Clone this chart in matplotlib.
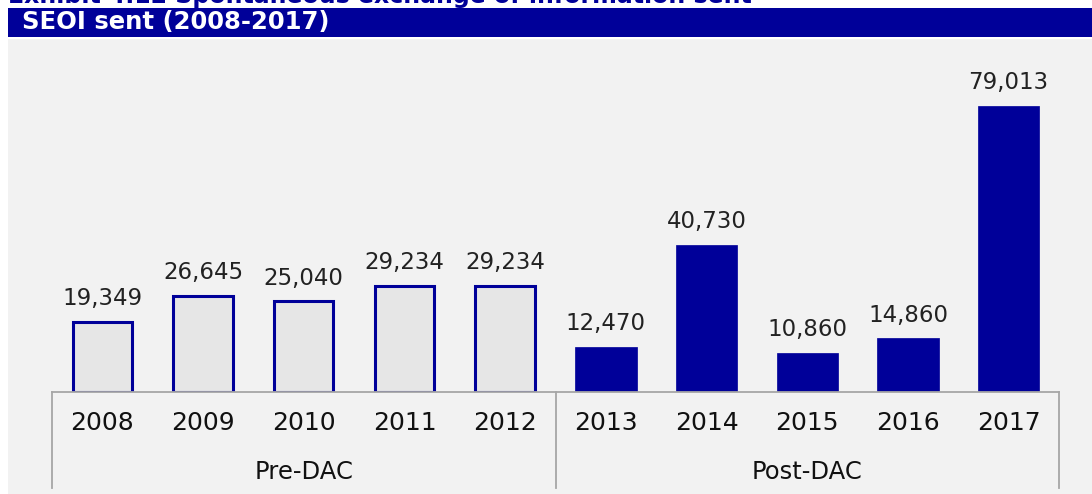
import matplotlib.pyplot as plt
from matplotlib.patches import Rectangle

# SEOI sent per year
years = ['2008', '2009', '2010', '2011', '2012', '2013', '2014', '2015', '2016', '2017']
sent = [19349, 26645, 25040, 29234, 29234, 12470, 40730, 10860, 14860, 79013]
groups = ['Pre-DAC', 'Post-DAC']
group_size = [5, 5]

navy = '#000099'
W, H = 1092, 494

fig = plt.figure(figsize=(W / 100, H / 100), dpi=100)
fig.patch.set_facecolor('white')

# grey panel and title banner
fig.patches.append(Rectangle((8 / W, 0), 1 - 8 / W, 1 - 39 / H, transform=fig.transFigure,
                             facecolor='#f2f2f2', edgecolor='none', zorder=-5))
fig.patches.append(Rectangle((8 / W, 1 - 37 / H), 1 - 8 / W, 29 / H, transform=fig.transFigure,
                             facecolor=navy, edgecolor='none', zorder=-5))
fig.text(8 / W, 1 - 3 / H, 'Exhibit 4.12 Spontaneous exchange of information sent',
         color=navy, fontsize=17, fontweight='bold', va='baseline', ha='left')
fig.text(22 / W, 1 - 22.5 / H, 'SEOI sent (2008-2017)', color='white', fontsize=17.5,
         fontweight='bold', va='center', ha='left')

ax = fig.add_axes([52 / W, 1 - 392 / H, 1007 / W, 353 / H])
ax.set_facecolor('none')

x = list(range(len(years)))
n_pre = group_size[0]
ax.bar(x[:n_pre], sent[:n_pre], width=0.59, color='#e6e6e6', edgecolor=navy, linewidth=2.2)
ax.bar(x[n_pre:], sent[n_pre:], width=0.61, color=navy, edgecolor=navy, linewidth=0.5)

for xi, v in zip(x, sent):
    ax.annotate(f'{v:,}', (xi, v), xytext=(0, 12), textcoords='offset points',
                ha='center', va='baseline', fontsize=16.5, color='#222222')

ax.set_xlim(-0.5, len(years) - 0.5)
ax.set_ylim(0, 97500)
ax.set_yticks([])
for s in ['left', 'right', 'top']:
    ax.spines[s].set_visible(False)
ax.spines['bottom'].set_color('#a6a6a6')
ax.spines['bottom'].set_linewidth(1.3)

ax.set_xticks(x)
ax.set_xticklabels(years, fontsize=18, color='#111111')
ax.tick_params(axis='x', length=0, pad=14)

# group separators and labels
sep_depth = -(488 - 392) / 353
start = 0
bounds = [-0.5]
for g, n in zip(groups, group_size):
    ax.text(start + (n - 1) / 2, -(472 - 392) / 353, g, transform=ax.get_xaxis_transform(),
            ha='center', va='center', fontsize=17.5, color='#111111')
    start += n
    bounds.append(start - 0.5)
for b in bounds:
    ax.axvline(b, ymin=sep_depth, ymax=0, color='#a6a6a6', linewidth=1.3, clip_on=False)

fig.savefig('out.png', dpi=100)
